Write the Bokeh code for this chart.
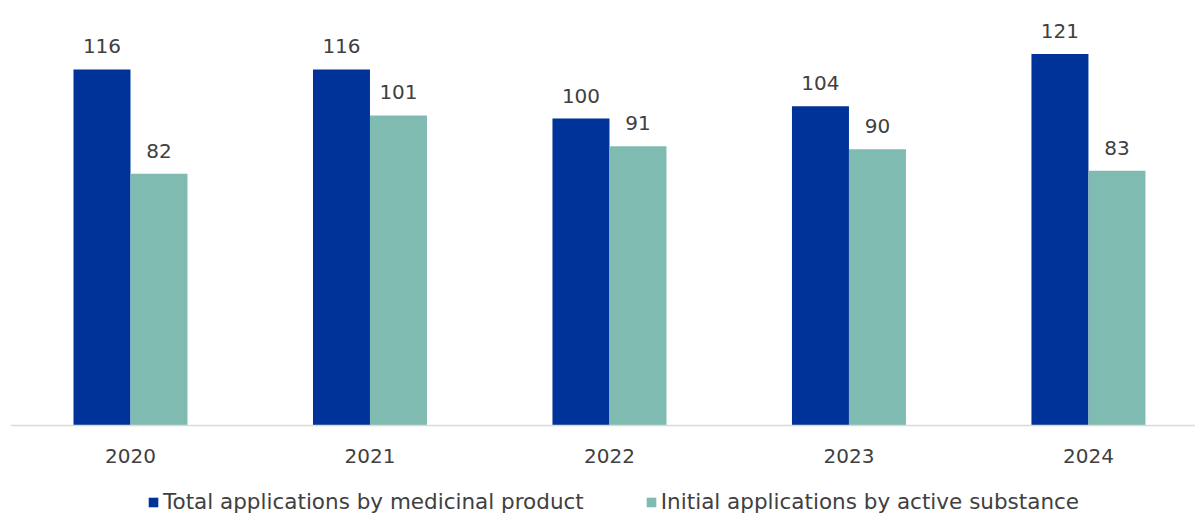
from bokeh.plotting import figure
from bokeh.models import ColumnDataSource, LabelSet, Legend, LegendItem, Range1d, Span
from bokeh.core.properties import value
from bokeh.transform import dodge
from bokeh.embed import file_html
from bokeh.resources import INLINE

years = ["2020", "2021", "2022", "2023", "2024"]
total_by_product = [116, 116, 100, 104, 121]
initial_by_substance = [82, 101, 91, 90, 83]
series_names = ["Total applications by medicinal product", "Initial applications by active substance"]

BLUE = "#003399"
TEAL = "#7FBBB1"
TXT = "#404040"
FONT = "DejaVu Sans"

idx = list(range(len(years)))
src = ColumnDataSource(dict(x=idx, a=total_by_product, b=initial_by_substance,
                            la=[str(v) for v in total_by_product],
                            lb=[str(v) for v in initial_by_substance],
                            zero=[0] * len(years), yr=years))

p = figure(width=1195, height=514, output_backend="svg", toolbar_location=None,
           x_range=Range1d(-0.501, 4.447), y_range=Range1d(-29.0, 135.2),
           min_border_left=10, min_border_right=0, min_border_top=10, min_border_bottom=0)

w = 0.238
ra = p.vbar(x=dodge("x", -0.119, range=p.x_range), top="a", bottom="zero", width=w, source=src,
            fill_color=BLUE, line_color=None)
rb = p.vbar(x=dodge("x", 0.119, range=p.x_range), top="b", bottom="zero", width=w, source=src,
            fill_color=TEAL, line_color=None)

for col, lab, off in [("a", "la", -0.119), ("b", "lb", 0.119)]:
    ls = LabelSet(x=dodge("x", off, range=p.x_range), y=col, text=lab, source=src,
                  text_align="center", text_baseline="alphabetic", y_offset=16,
                  text_font=value(FONT), text_font_size="20px", text_color=TXT)
    p.add_layout(ls)

# category axis: baseline line and year labels
p.add_layout(Span(location=0, dimension="width", line_color="#D9D9D9", line_width=1.5))
p.add_layout(LabelSet(x="x", y="zero", text="yr", source=src, text_align="center",
                      text_baseline="middle", y_offset=-31, text_font=value(FONT),
                      text_font_size="20px", text_color=TXT))

p.axis.visible = False
p.grid.visible = False
p.outline_line_color = None

legend = Legend(items=[LegendItem(label=series_names[0], renderers=[ra]),
                       LegendItem(label=series_names[1], renderers=[rb])],
                orientation="horizontal", location=(137, 0),
                label_text_font=FONT, label_text_font_size="21.5px", label_text_color=TXT,
                glyph_width=12, glyph_height=12, label_standoff=4, spacing=61,
                border_line_color=None, background_fill_alpha=0, padding=0, margin=0)
p.add_layout(legend)

open("out.html", "w").write(file_html(p, INLINE))
